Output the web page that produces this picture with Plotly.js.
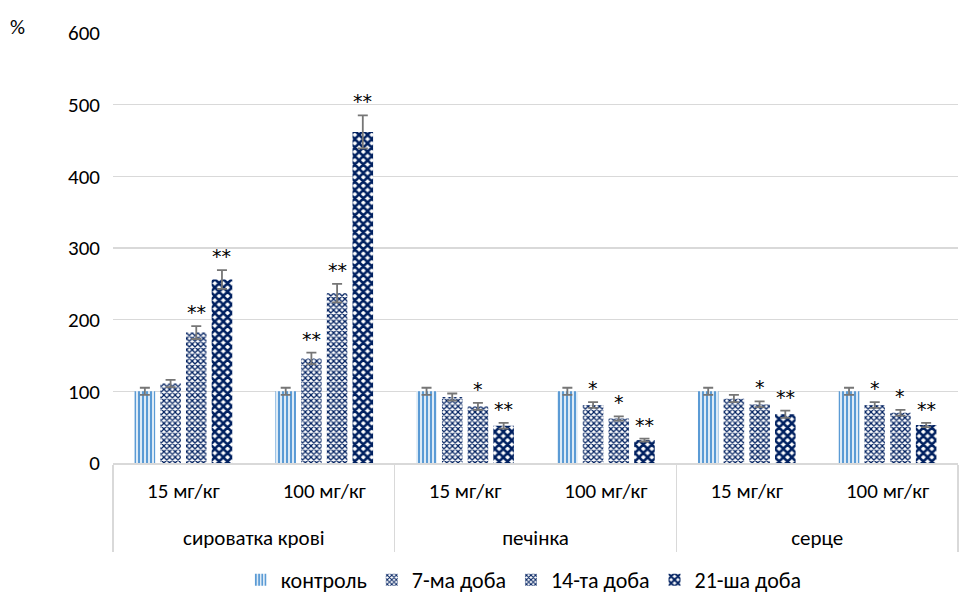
<!DOCTYPE html>
<html>
<head>
<meta charset="utf-8">
<script src="https://cdn.plot.ly/plotly-3.0.1.min.js"></script>
<style>html,body{margin:0;padding:0;background:#fff;}#chart{width:969px;height:593px;}</style>
</head>
<body>
<div id="chart"></div>
<script>
// ---- data ----
const organs = ['сироватка крові','сироватка крові','печінка','печінка','серце','серце'];
const doses = ['15 мг/кг','100 мг/кг','15 мг/кг','100 мг/кг','15 мг/кг','100 мг/кг'];
const seriesNames = ['контроль','7-ма доба','14-та доба','21-ша доба'];

const controlVals = [100,100,100,100,100,100];
const controlErr  = [5,5,5,5,5,5];
const day7Vals  = [111,146,92,81,90,81];
const day7Err   = [5,8,5,4,5,4];
const day14Vals = [182,237,79,62,82,70];
const day14Err  = [9,13,5,3,4,4];
const day21Vals = [256,462,52,32,68,53];
const day21Err  = [13,23,4,2,5,3];

const controlSig = ['','','','','',''];
const day7Sig  = ['','**','','*','','*'];
const day14Sig = ['**','**','*','*','*','*'];
const day21Sig = ['**','**','**','**','**','**'];

const yTicks = [0,100,200,300,400,500,600];

// ---- styling ----
const FONT = 'Calibri, Carlito, Lato, sans-serif';
const FS = 21;
const NAVY = '#002060';
const BLUE = '#5B9BD5';
const patterns = [
  {shape:'|', fgcolor:BLUE, bgcolor:'#ffffff', size:4, solidity:0.6, fillmode:'replace'},
  {shape:'x', fgcolor:NAVY, bgcolor:'#ffffff', size:4, solidity:0.5, fillmode:'replace'},
  {shape:'x', fgcolor:NAVY, bgcolor:'#ffffff', size:4, solidity:0.55, fillmode:'replace'},
  {shape:'x', fgcolor:NAVY, bgcolor:'#ffffff', size:6, solidity:0.66, fillmode:'replace'}
];
const vals = [controlVals, day7Vals, day14Vals, day21Vals];
const errs = [controlErr, day7Err, day14Err, day21Err];
const sigs = [controlSig, day7Sig, day14Sig, day21Sig];

const BARGAP = 0.27;
const BARGROUPGAP = 0.2;

// level-1 labels get an empty trailing line so the level-2 row sits lower
const doseLabels = doses.map(d => d + '<br> ');

const traces = vals.map((v,k) => ({
  type:'bar',
  name: seriesNames[k],
  x: [organs, doseLabels],
  y: v,
  marker: {color:'#ffffff', pattern: patterns[k], line:{width:0}},
  error_y: {type:'data', array: errs[k], visible:true, color:'#767676', thickness:1.8, width:5}
}));

const annotations = [];
const slot = (1 - BARGAP) / vals.length;
sigs.forEach((s,k) => {
  const off = -(1 - BARGAP)/2 + (k + 0.5) * slot;
  s.forEach((t,i) => {
    if (!t) return;
    annotations.push({
      xref:'x', yref:'y', x: i + off, y: vals[k][i] + errs[k][i],
      text: t, showarrow:false, yanchor:'bottom', yshift:1,
      font:{family:'"DejaVu Sans", sans-serif', size:19, color:'#000'}
    });
  });
});
annotations.push({
  xref:'paper', yref:'paper', x:-0.113, y:1.015, xanchor:'center', yanchor:'middle',
  text:'%', showarrow:false, font:{family:FONT, size:FS, color:'#000'}
});

const layout = {
  width:969, height:593,
  margin:{l:113, r:11, t:33, b:130, autoexpand:false},
  paper_bgcolor:'#ffffff', plot_bgcolor:'#ffffff',
  barmode:'group', bargap:BARGAP, bargroupgap:BARGROUPGAP,
  font:{family:FONT, size:FS, color:'#000'},
  showlegend:true,
  legend:{orientation:'h', x:0.486, xanchor:'center', xref:'paper',
          yref:'container', y:0.022, yanchor:'middle',
          font:{family:FONT, size:22, color:'#000'}, traceorder:'normal'},
  xaxis:{type:'multicategory', automargin:false, showline:true, linecolor:'#D9D9D9', linewidth:1.5,
         showdividers:true, dividercolor:'#D9D9D9', dividerwidth:1.5,
         ticklabelstandoff:8,
         tickfont:{family:FONT, size:FS, color:'#000'}, showgrid:false, zeroline:false},
  yaxis:{range:[0,600], tickvals:yTicks, automargin:false, showgrid:true, gridcolor:'#D9D9D9', gridwidth:1.5,
         zeroline:false, showline:false, ticks:'', ticklabelstandoff:12,
         tickfont:{family:FONT, size:FS, color:'#000'}},
  annotations: annotations
};

Plotly.newPlot('chart', traces, layout, {staticPlot:true, displayModeBar:false});
</script>
</body>
</html>
